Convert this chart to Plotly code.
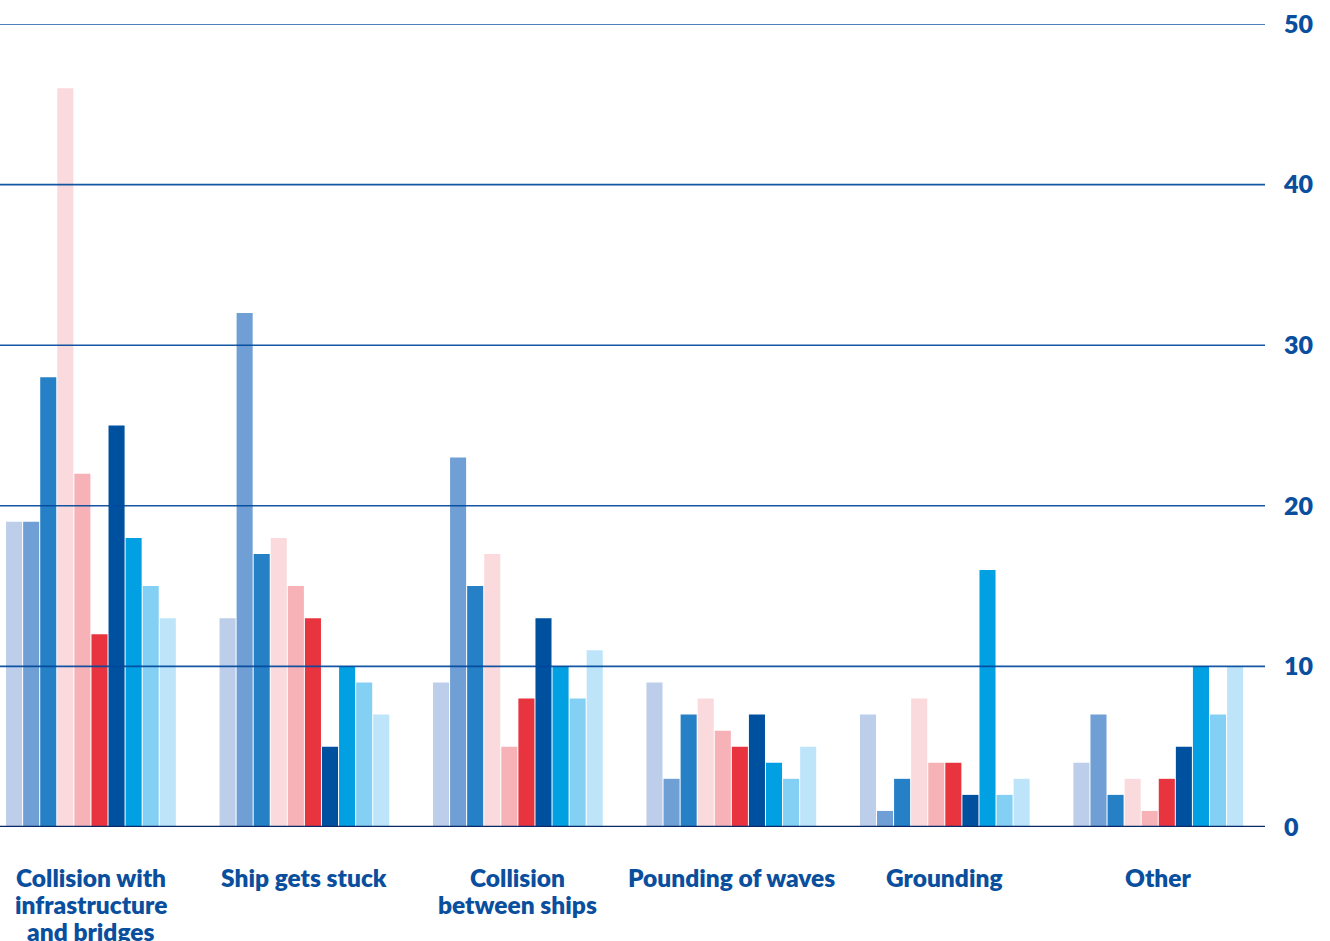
import plotly.graph_objects as go

categories = ["Collision with<br>infrastructure<br>and bridges", "Ship gets stuck",
              "Collision<br>between ships", "Pounding of waves", "Grounding", "Other"]

series_names = [f"Series {i}" for i in range(1, 11)]
series_values = [
    [19, 13, 9, 9, 7, 4],
    [19, 32, 23, 3, 1, 7],
    [28, 17, 15, 7, 3, 2],
    [46, 18, 17, 8, 8, 3],
    [22, 15, 5, 6, 4, 1],
    [12, 13, 8, 5, 4, 3],
    [25, 5, 13, 7, 2, 5],
    [18, 10, 10, 4, 16, 10],
    [15, 9, 8, 3, 2, 7],
    [13, 7, 11, 5, 3, 10],
]
colors = ["#bccee9", "#6f9fd4", "#2680c6", "#fadadd", "#f6b2b7",
          "#e8343f", "#0050a0", "#00a0e3", "#84d0f4", "#bde4f9"]
y_ticks = [0, 10, 20, 30, 40, 50]

x_pos = list(range(len(categories)))
text_color = "#0a4f9e"

fig = go.Figure()
for name, vals, col in zip(series_names, series_values, colors):
    fig.add_trace(go.Bar(x=x_pos, y=vals, name=name, marker=dict(color=col, line=dict(width=0)),
                         showlegend=False))

# gridlines drawn above bars (semi-transparent), as in the reference
for t in y_ticks[1:]:
    fig.add_shape(type="line", xref="paper", yref="y", x0=0, x1=1, y0=t, y1=t,
                  line=dict(color="rgba(0,72,155,0.92)", width=1.6), layer="above")
fig.add_shape(type="line", xref="paper", yref="y", x0=0, x1=1, y0=0, y1=0,
              line=dict(color="#08286a", width=2.4), layer="above")

# category labels, one annotation per line (tight line spacing as in reference)
for i, cat in enumerate(categories):
    for k, line in enumerate(cat.split("<br>")):
        fig.add_annotation(x=i, y=0, xref="x", yref="y", text=line, showarrow=False,
                           xanchor="center", yanchor="middle", yshift=-(50 + 27 * k),
                           font=dict(family="Lato", size=24.5, color=text_color, weight=800))

fig.update_layout(
    width=1330, height=941,
    margin=dict(l=0, r=65, t=24, b=114),
    paper_bgcolor="white", plot_bgcolor="white",
    barmode="group", bargap=0.2, bargroupgap=0.06,
    font=dict(family="Lato", color=text_color),
    xaxis=dict(range=[-0.426, 5.5], showticklabels=False, automargin=False,
               showgrid=False, zeroline=False, showline=False, ticks=""),
    yaxis=dict(range=[0, 50], side="right", tickmode="array", tickvals=y_ticks,
               showgrid=False, zeroline=False, showline=False, ticks="", automargin=False,
               tickfont=dict(family="Lato", size=25, color=text_color, weight=800),
               ticklabelstandoff=18),
)

fig.write_html("out.html", config={"displayModeBar": False},
               post_script="document.body.style.margin='0';")
